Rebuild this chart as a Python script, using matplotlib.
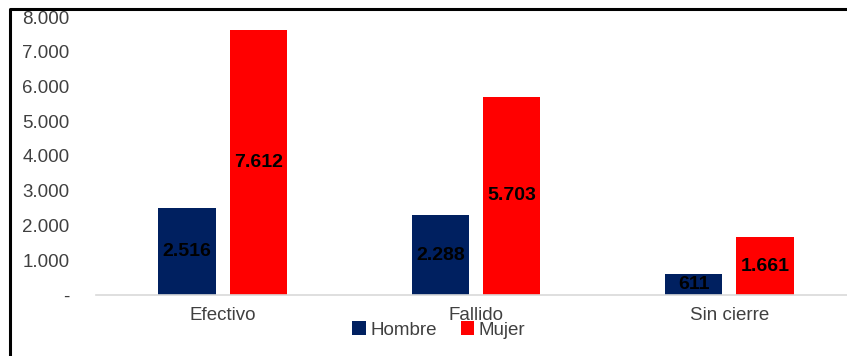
import numpy as np
import matplotlib.pyplot as plt
from matplotlib.lines import Line2D
from matplotlib.ticker import FuncFormatter

plt.rcParams['font.family'] = ['Liberation Sans', 'DejaVu Sans']

categories = ["Efectivo", "Fallido", "Sin cierre"]
hombre = [2516, 2288, 611]
mujer = [7612, 5703, 1661]
series_names = ["Hombre", "Mujer"]


def miles(v):
    return f"{int(round(v)):,}".replace(",", ".")


fig = plt.figure(figsize=(8.47, 3.56), dpi=100)
ax = fig.add_axes([96 / 847, 1 - 295 / 356, (856 - 96) / 847, (295 - 17) / 356])

x = np.arange(len(categories))
w = 0.227
off = 0.141
b1 = ax.bar(x - off, hombre, w, color="#002060", label=series_names[0])
b2 = ax.bar(x + off, mujer, w, color="#FF0000", label=series_names[1])

for bars, vals in ((b1, hombre), (b2, mujer)):
    for b, v in zip(bars, vals):
        ax.text(b.get_x() + b.get_width() / 2, v / 2, miles(v),
                ha="center", va="center", fontsize=14, fontweight="bold", color="black")

ax.set_xlim(-0.5, 2.5)
ax.set_ylim(0, 8000)
ax.set_yticks(np.arange(0, 8001, 1000))
ax.yaxis.set_major_formatter(FuncFormatter(lambda v, p: "-" if v == 0 else miles(v)))
ax.set_xticks(x)
ax.set_xticklabels(categories)
ax.tick_params(axis="y", length=0, pad=19, labelsize=13.5, labelcolor="#404040")
ax.tick_params(axis="x", length=0, pad=9, labelsize=13.5, labelcolor="#404040")

for s in ("top", "right", "left"):
    ax.spines[s].set_visible(False)
ax.spines["bottom"].set_color("#d9d9d9")
ax.spines["bottom"].set_linewidth(1.2)

fig.legend(loc="center", bbox_to_anchor=(439 / 847, 1 - 330 / 356), ncol=2,
           frameon=False, fontsize=13.5, handlelength=0.7, handleheight=0.7,
           columnspacing=1.3, handletextpad=0.25, labelcolor="#404040")

# outer frame (only top and left edges fall inside the picture)
fy = 1 - 8.5 / 356
fx = 10 / 847
fig.add_artist(Line2D([fx, fx, 1.0], [0, fy, fy], transform=fig.transFigure,
                      color="black", linewidth=2.2))

fig.savefig("out.png", dpi=100)
